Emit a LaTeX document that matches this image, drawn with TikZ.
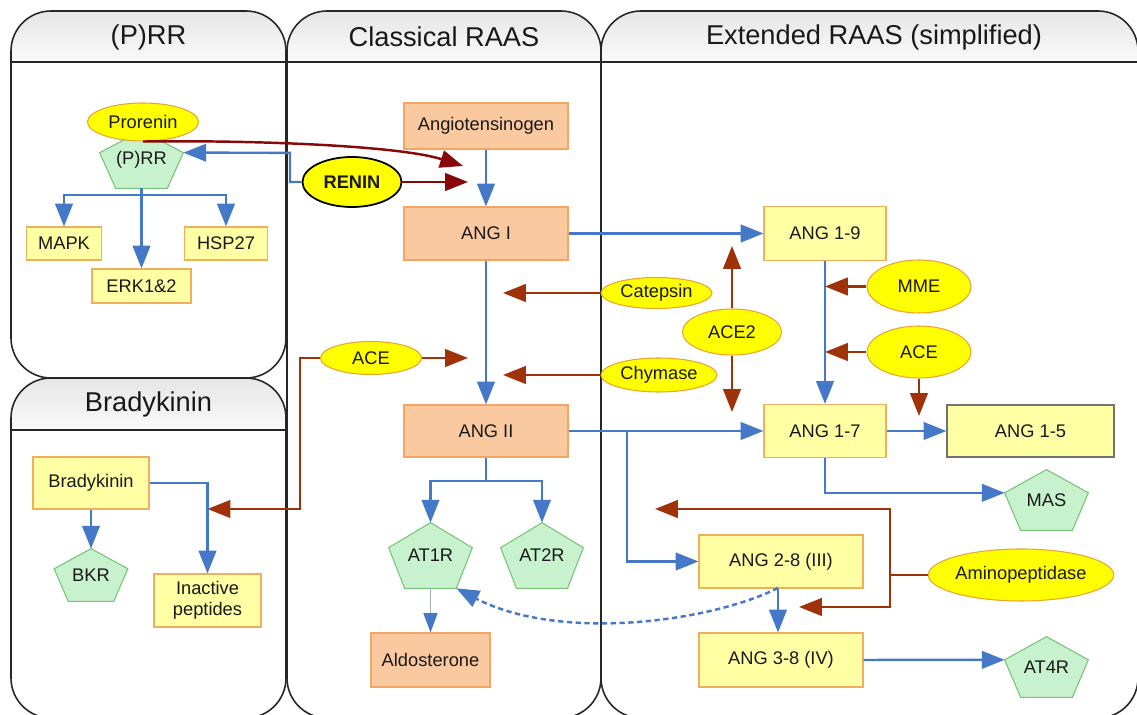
\documentclass[tikz,border=0pt]{standalone}
\usepackage{fontspec}
\setmainfont{Liberation Sans}
\usetikzlibrary{arrows.meta,shapes.geometric,calc}
\pgfdeclarelayer{bg}
\pgfsetlayers{bg,main}
\definecolor{lnblue}{RGB}{70,120,200}
\definecolor{dred}{RGB}{135,8,8}
\definecolor{brn}{RGB}{160,50,10}
\definecolor{salfill}{RGB}{251,201,160}
\definecolor{salline}{RGB}{244,165,100}
\definecolor{yfill}{RGB}{255,255,163}
\definecolor{yline}{RGB}{240,175,90}
\definecolor{efill}{RGB}{255,255,0}
\definecolor{eline}{RGB}{232,165,50}
\definecolor{gfill}{RGB}{200,242,205}
\definecolor{gline}{RGB}{120,195,120}
\definecolor{hdtop}{RGB}{230,230,230}
\definecolor{txt}{RGB}{25,25,25}
\begin{document}
\begin{tikzpicture}[x=0.02cm,y=-0.02cm,
  font=\fontsize{10.4}{12}\selectfont, text=txt,
  sz/.style 2 args={minimum width=#1*0.02cm, minimum height=#2*0.02cm, inner sep=0pt},
  salbox/.style={rectangle, draw=salline, fill=salfill, line width=0.6pt},
  ybox/.style={rectangle, draw=yline, fill=yfill, line width=0.6pt},
  enz/.style={ellipse, draw=eline, fill=efill, line width=0.6pt},
  pent/.style={rectangle},
  ttl/.style={font=\fontsize{15.5}{18}\selectfont},
  tip/.style={-{Triangle[length=13pt,width=10pt]}},
  flow/.style={draw=lnblue, line width=1.4pt, tip},
  flowline/.style={draw=lnblue, line width=1.4pt},
  enzarrow/.style={draw=brn, line width=1.4pt, tip},
  enzline/.style={draw=brn, line width=1.4pt},
  renarrow/.style={draw=dred, line width=1.4pt, tip},
  panel/.style={draw=black!85, line width=0.9pt}
]
\useasboundingbox (0,0) rectangle (1137,715);

% ---------- panels ----------
\begin{pgfonlayer}{bg}
\foreach \xa/\ya/\xb/\yb/\yh in {11/11/286/378/62, 11/378/286/718/430, 287/11/601/718/62, 601/11/1138/718/62} {
  \begin{scope}
    \clip[rounded corners=0.8cm] (\xa,\ya) rectangle (\xb,\yb);
    \fill[white] (\xa,\ya) rectangle (\xb,\yb);
    \shade[top color=hdtop, bottom color=white!96!gray] (\xa,\ya) rectangle (\xb,\yh);
  \end{scope}
  \draw[panel, rounded corners=0.8cm] (\xa,\ya) rectangle (\xb,\yb);
  \draw[panel] (\xa,\yh) -- (\xb,\yh);
}
\end{pgfonlayer}

\node[ttl] (tprr) at (148.5,37) {(P)RR};
\node[ttl] (tbrady) at (148.5,404) {Bradykinin};
\node[ttl] (tclass) at (444,37) {Classical RAAS};
\node[ttl] (text) at (874,37) {Extended RAAS (simplified)};

% ---------- (P)RR panel ----------
\node[pent, sz={83}{57}] (prr) at (141.5,159.5) {(P)RR};
\node[enz, sz={111}{38}] (prorenin) at (143,122) {Prorenin};
\node[ybox, sz={75}{33}] (mapk) at (64,243.5) {MAPK};
\node[ybox, sz={83}{33}] (hsp) at (226,243.5) {HSP27};
\node[ybox, sz={99}{34}] (erk) at (141.5,286) {ERK1\&2};

% ---------- Bradykinin panel ----------
\node[ybox, sz={116}{52}] (brady) at (91,483) {Bradykinin};
\node[pent, sz={73}{52}] (bkr) at (91,575) {BKR};
\node[ybox, sz={107}{53}, align=center] (inact) at (207.5,600.5) {Inactive\\peptides};

% ---------- Classical RAAS ----------
\node[ellipse, draw=black, fill=efill, line width=1pt, sz={99}{50}, font=\fontsize{10.4}{12}\selectfont\bfseries] (renin) at (352,182) {RENIN};
\node[salbox, sz={164}{46}] (agt) at (486,126) {Angiotensinogen};
\node[salbox, sz={164}{53}] (ang1) at (486,233.5) {ANG I};
\node[salbox, sz={164}{52}] (ang2) at (486,431) {ANG II};
\node[enz, sz={101}{33}] (aceL) at (371,358) {ACE};
\node[pent, sz={83}{65}] (at1r) at (430.5,555.5) {AT1R};
\node[pent, sz={82}{65}] (at2r) at (542,555.5) {AT2R};
\node[salbox, sz={119}{54}] (aldo) at (430.5,660) {Aldosterone};

% ---------- Extended RAAS ----------
\node[ybox, sz={122}{54}] (ang19) at (825,233.5) {ANG 1-9};
\node[enz, sz={111}{31}] (cat) at (656.5,293) {Catepsin};
\node[enz, sz={116}{34}] (chy) at (659,375) {Chymase};
\node[enz, sz={99}{46}] (ace2) at (732,332) {ACE2};
\node[enz, sz={104}{53}] (mme) at (919,286.5) {MME};
\node[enz, sz={104}{52}] (aceR) at (919,352) {ACE};
\node[ybox, sz={122}{53}] (ang17) at (825,431) {ANG 1-7};
\node[rectangle, draw=black!55, fill=yfill, line width=0.7pt, sz={167}{52}] (ang15) at (1030.5,431) {ANG 1-5};
\node[pent, sz={83}{60}] (mas) at (1046.5,500) {MAS};
\node[ybox, sz={164}{53}] (ang28) at (781,561.5) {ANG 2-8 (III)};
\node[ybox, sz={164}{54}] (ang38) at (781,660) {ANG 3-8 (IV)};
\node[enz, sz={183}{52}] (amino) at (1021,575) {Aminopeptidase};
\node[pent, sz={83}{60}] (at4r) at (1046.5,667) {AT4R};

% ---------- pentagon outlines ----------
\begin{pgfonlayer}{bg}
\foreach \n in {prr,bkr,at1r,at2r,mas,at4r}
  \filldraw[fill=gfill, draw=gline, line width=0.6pt]
    (\n.north) -- ($(\n.north west)!0.382!(\n.south west)$)
    -- ($(\n.south west)!0.191!(\n.south east)$)
    -- ($(\n.south west)!0.809!(\n.south east)$)
    -- ($(\n.north east)!0.382!(\n.south east)$) -- cycle;
\end{pgfonlayer}

% ---------- helper coordinates ----------
\coordinate (prrR) at ($(prr.north east)!0.382!(prr.south east)$);
\coordinate (masL) at ($(mas.north west)!0.382!(mas.south west)$);
\coordinate (at4rL) at ($(at4r.north west)!0.382!(at4r.south west)$);
\coordinate (at1rBR) at ($(at1r.south west)!0.809!(at1r.south east)$);
\coordinate (prrj) at (141.5,195);
\coordinate (rj) at (290,152.8);
\coordinate (rentip) at (468,182);
\coordinate (protip) at (463,166);
\coordinate (acetip) at (468,358);
\coordinate (cattip) at (503,293);
\coordinate (chytip) at (503,375);
\coordinate (acej) at (300,509);
\coordinate (bradytip) at (207.5,509);
\coordinate (a2j) at (486,481);
\coordinate (a2b) at (627,431);
\coordinate (ace2up) at (732,246);
\coordinate (ace2dn) at (732,412);
\coordinate (mmetip) at (825,286.5);
\coordinate (acertip) at (825,352);
\coordinate (acerdn) at (919,416);
\coordinate (amj) at (890,575);
\coordinate (amtip1) at (655,509);
\coordinate (amtip2) at (799,607);
\coordinate (dstart) at (778,588);

% ---------- (P)RR connectors ----------
\draw[flow] (prr.south) -- (erk.north);
\draw[flow] (prrj) -| (mapk.north);
\draw[flow] (prrj) -| (hsp.north);
\draw[flow] (renin.west) -| (rj) -- (prrR);
\draw[renarrow] (prorenin.south) .. controls (260,140) and (400,146) .. (protip);
\draw[renarrow] (renin.east) -- (rentip);

% ---------- Classical connectors ----------
\draw[flow] (agt.south) -- (ang1.north);
\draw[flow] (ang1.south) -- (ang2.north);
\draw[enzarrow] (cat.west) -- (cattip);
\draw[enzarrow] (chy.west) -- (chytip);
\draw[enzarrow] (aceL.east) -- (acetip);
\draw[enzarrow] (aceL.west) -| (acej) -- (bradytip);
\draw[flowline] (ang2.south) -- (a2j);
\draw[flow] (a2j) -| (at1r.north);
\draw[flow] (a2j) -| (at2r.north);
\draw[draw=black!35!lnblue!45, line width=0.7pt, -{Triangle[length=11pt,width=8pt,color=lnblue]}] (at1r.south) -- (aldo.north);

% ---------- Bradykinin connectors ----------
\draw[flow] (brady.south) -- (bkr.north);
\draw[flow] (brady.east) -| (inact.north);

% ---------- Extended connectors ----------
\draw[flow] (ang1.east) -- (ang19.west);
\draw[enzarrow] (ace2.north) -- (ace2up);
\draw[enzarrow] (ace2.south) -- (ace2dn);
\draw[flow] (ang19.south) -- (ang17.north);
\draw[enzarrow] (mme.west) -- (mmetip);
\draw[enzarrow] (aceR.west) -- (acertip);
\draw[enzarrow] (aceR.south) -- (acerdn);
\draw[flow] (ang2.east) -- (ang17.west);
\draw[flow] (ang17.east) -- (ang15.west);
\draw[flow] (ang17.south) |- (masL);
\draw[flow] (a2b) |- (ang28.west);
\draw[flow] (ang28.south -| dstart) -- (ang38.north -| dstart);
\draw[flow] (ang38.east) -- (at4rL);
\draw[enzline] (amino.west) -- (amj);
\draw[enzarrow] (amj) |- (amtip1);
\draw[enzarrow] (amj) |- (amtip2);
\draw[draw=lnblue, line width=1.4pt, dash pattern=on 3pt off 2pt, -{Triangle[length=13pt,width=10pt]}]
  (dstart) .. controls (710,622) and (560,642) .. (at1rBR);
\end{tikzpicture}
\end{document}
